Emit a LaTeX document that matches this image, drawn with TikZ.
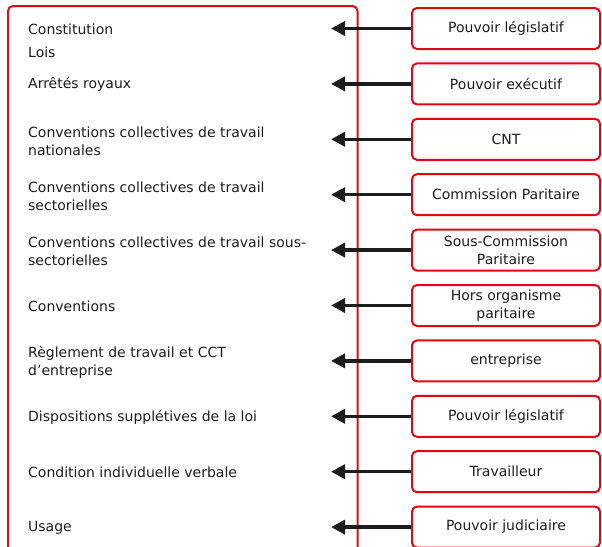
\documentclass[tikz,border=0pt]{standalone}
\usepackage{fontspec}
\setmainfont{DejaVu Sans}
\usetikzlibrary{arrows.meta, positioning}
\definecolor{boxred}{RGB}{227, 6, 19}
\definecolor{inkblack}{RGB}{28, 28, 28}

\begin{document}
\begin{tikzpicture}[x=1pt, y=-1pt,
  level/.style={anchor=west, inner sep=0pt, align=left, text=inkblack, font=\fontsize{14}{18}\selectfont},
  source/.style={draw=boxred, line width=2pt, rounded corners=5pt, fill=white, minimum width=188pt, minimum height=41pt, inner sep=1pt, align=center, text=inkblack, font=\fontsize{14}{18}\selectfont},
  feed/.style={-{Triangle[length=14pt, width=14pt]}, line width=3.5pt, inkblack}]
  \useasboundingbox (0, 0) rectangle (602, 546);
  \clip (0, 0) rectangle (602, 546);

  % ===== HIERARCHY (left) =====
  \draw[boxred, line width=2pt, rounded corners=5pt] (8, 6) rectangle (357.5, 570);

  \node[level] (con) at (28, 29) {Constitution};
  \node[level] (lois) at (28, 52) {Lois};
  \node[level] (ar) at (28, 84) {Arrêtés royaux};
  \node[level] (cctn) at (28, 141) {Conventions collectives de travail\\nationales};
  \node[level] (ccts) at (28, 196) {Conventions collectives de travail\\sectorielles};
  \node[level] (cctss) at (28, 251) {Conventions collectives de travail sous-\\sectorielles};
  \node[level] (conv) at (28, 306) {Conventions};
  \node[level] (regl) at (28, 362) {Règlement de travail et CCT\\d’entreprise};
  \node[level] (disp) at (28, 417) {Dispositions supplétives de la loi};
  \node[level] (cond) at (28, 472) {Condition individuelle verbale};
  \node[level] (usage) at (28, 528) {Usage};

  % ===== SOURCES (right) =====
  \node[source] (leg) at (506, 28.5) {Pouvoir législatif};
  \node[source] (exe) at (506, 83.9) {Pouvoir exécutif};
  \node[source] (cnt) at (506, 139.3) {CNT};
  \node[source] (cp) at (506, 194.7) {Commission Paritaire};
  \node[source] (scp) at (506, 250.1) {Sous-Commission\\Paritaire};
  \node[source] (hors) at (506, 305.5) {Hors organisme\\paritaire};
  \node[source] (ent) at (506, 360.9) {entreprise};
  \node[source] (leg2) at (506, 416.3) {Pouvoir législatif};
  \node[source] (trav) at (506, 471.7) {Travailleur};
  \node[source] (jud) at (506, 527.1) {Pouvoir judiciaire};

  % arrow tips, just left of the hierarchy border
  \coordinate (t1) at (331, 28.5);
  \coordinate (t2) at (331, 83.9);
  \coordinate (t3) at (331, 139.3);
  \coordinate (t4) at (331, 194.7);
  \coordinate (t5) at (331, 250.1);
  \coordinate (t6) at (331, 305.5);
  \coordinate (t7) at (331, 360.9);
  \coordinate (t8) at (331, 416.3);
  \coordinate (t9) at (331, 471.7);
  \coordinate (t10) at (331, 527.1);

  \draw[feed] (leg.west) -- (t1);
  \draw[feed] (exe.west) -- (t2);
  \draw[feed] (cnt.west) -- (t3);
  \draw[feed] (cp.west) -- (t4);
  \draw[feed] (scp.west) -- (t5);
  \draw[feed] (hors.west) -- (t6);
  \draw[feed] (ent.west) -- (t7);
  \draw[feed] (leg2.west) -- (t8);
  \draw[feed] (trav.west) -- (t9);
  \draw[feed] (jud.west) -- (t10);
\end{tikzpicture}
\end{document}
